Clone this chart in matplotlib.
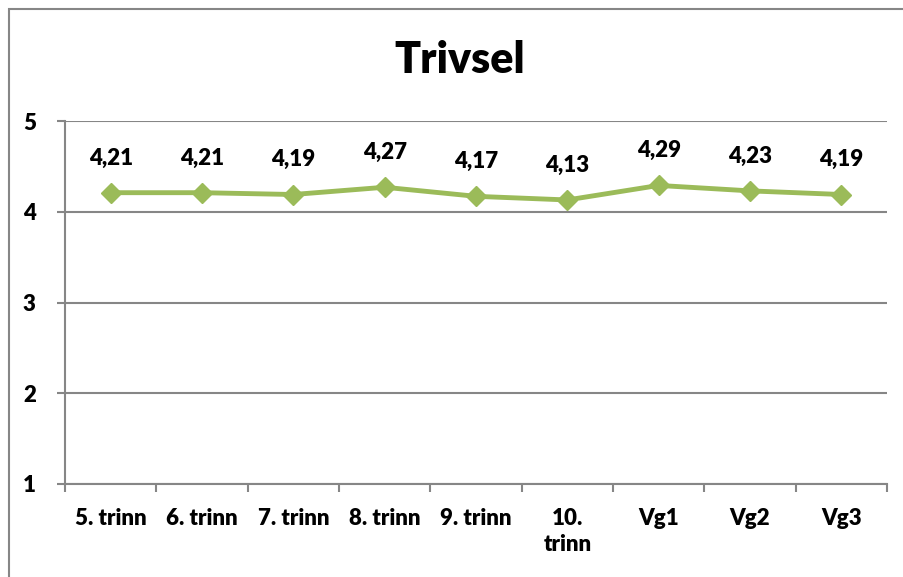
import matplotlib.pyplot as plt
from matplotlib.patches import Rectangle

categories = ['5. trinn', '6. trinn', '7. trinn', '8. trinn', '9. trinn',
              '10.\ntrinn', 'Vg1', 'Vg2', 'Vg3']
values = [4.21, 4.21, 4.19, 4.27, 4.17, 4.13, 4.29, 4.23, 4.19]
value_labels = ['4,21', '4,21', '4,19', '4,27', '4,17', '4,13', '4,29', '4,23', '4,19']
yticks = [1, 2, 3, 4, 5]

plt.rcParams['font.family'] = ['Lato', 'DejaVu Sans']
plt.rcParams['font.weight'] = 'heavy'

grey = '#868686'
green = '#9BBB59'
wt = 'heavy'


def main():
    fig = plt.figure(figsize=(9.04, 5.77), dpi=100)
    ax = fig.add_axes([65 / 904, 1 - 484 / 577, 822 / 904, 363 / 577])

    x = list(range(len(categories)))
    ax.plot(x, values, color=green, lw=3.5, marker='D', markersize=10,
            solid_joinstyle='round')
    for xi, v, lab in zip(x, values, value_labels):
        ax.annotate(lab, (xi, v), xytext=(0, 25), textcoords='offset points',
                    ha='center', va='center', fontsize=16, fontweight=wt)

    ax.set_xlim(-0.5, len(categories) - 0.5)
    ax.set_ylim(1, 5)
    ax.set_yticks(yticks)
    ax.set_yticklabels([str(t) for t in yticks], fontsize=16, fontweight=wt)
    ax.set_xticks(x)
    ax.set_xticklabels(categories, fontsize=16, fontweight=wt, va='top',
                       linespacing=1.3)
    ax.set_xticks([i - 0.5 for i in range(len(categories) + 1)], minor=True)
    ax.tick_params(axis='x', which='major', length=0, pad=17)
    ax.tick_params(axis='x', which='minor', length=6, width=1.5, color=grey,
                   direction='out')
    ax.tick_params(axis='y', length=6, width=1.5, color=grey, direction='out', pad=15)

    ax.grid(axis='y', color=grey, lw=1.5)
    ax.set_axisbelow(True)
    for s in ['top', 'right']:
        ax.spines[s].set_visible(False)
    for s in ['left', 'bottom']:
        ax.spines[s].set_color(grey)
        ax.spines[s].set_linewidth(1.5)

    fig.text(0.5 + 8 / 904, 1 - 60 / 577, 'Trivsel', ha='center', va='center',
             fontsize=31, fontweight=wt)

    fig.patches.append(Rectangle((9 / 904, -0.05), 1.1, 1 - 9 / 577 + 0.05,
                                 transform=fig.transFigure, fill=False,
                                 edgecolor=grey, lw=1.5))

    fig.savefig('out.png', dpi=100)


if __name__ == '__main__':
    main()
